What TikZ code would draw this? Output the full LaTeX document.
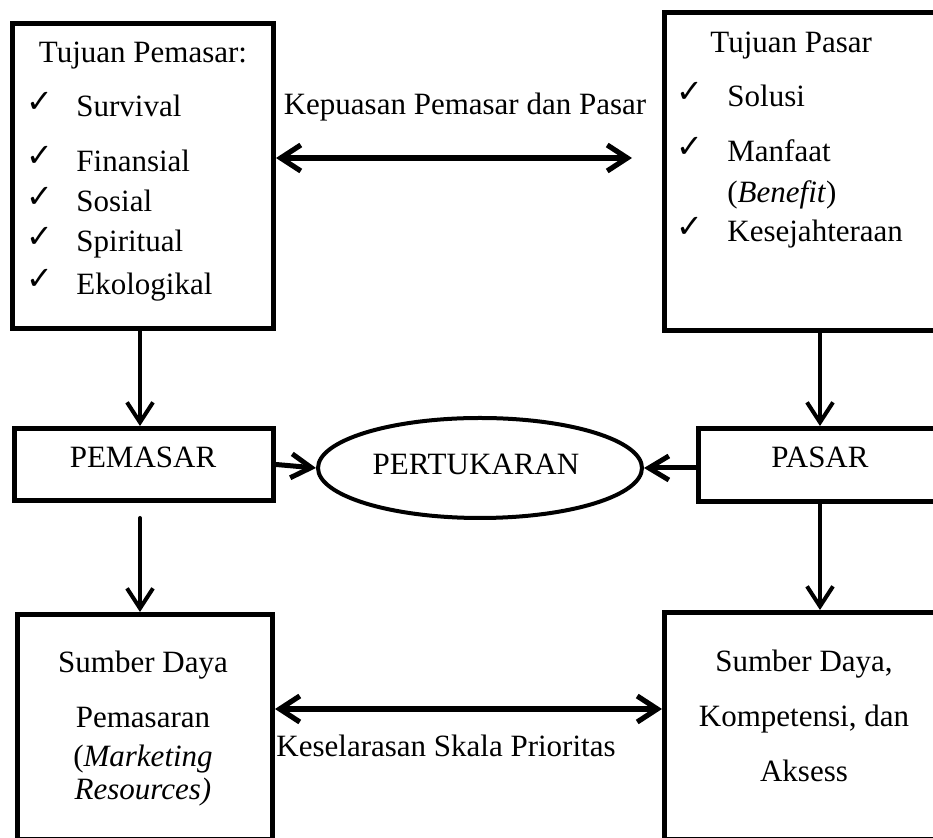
\documentclass[tikz,border=0pt]{standalone}
\usepackage{fontspec}
\setmainfont{Liberation Serif}
\newfontfamily\symbolfont{DejaVu Sans}
\usetikzlibrary{arrows.meta,shapes.geometric}

\tikzset{
  frame/.style={draw, line width=2.5pt, rectangle, inner sep=0pt},
  oval/.style={draw, line width=2pt, ellipse, inner sep=0pt,
    minimum width=162pt, minimum height=50pt},
  txt/.style={inner sep=0pt, font=\fontsize{15.5pt}{18pt}\selectfont},
  tick/.style={inner sep=0pt, font=\symbolfont\fontsize{16pt}{18pt}\selectfont},
  flow/.style={line width=2pt, -{Straight Barb[length=10pt,width=13pt]}, line cap=round},
  link/.style={line width=2.6pt, {Straight Barb[length=10pt,width=13pt]}-{Straight Barb[length=10pt,width=13pt]}},
  feed/.style={line width=2.5pt, -{Straight Barb[length=10pt,width=12pt]}}
}

\begin{document}
\begin{tikzpicture}[x=0.5pt, y=-0.5pt]
\useasboundingbox (0,0) rectangle (933,838);
\clip (0,0) rectangle (933,838);

% boxes
\node[frame, minimum width=130.5pt, minimum height=152.5pt] (tl) at (143,176) {};
\node[frame, minimum width=155.5pt, minimum height=159pt] (tr) at (820,171.5) {};
\node[frame, minimum width=129.5pt, minimum height=36pt] (pem) at (144,464.5) {};
\node[frame, minimum width=121.5pt, minimum height=36.5pt] (pas) at (820,465) {};
\node[oval] (tuk) at (480,468) {};
\node[frame, minimum width=127.5pt, minimum height=112.5pt] (bl) at (145,727) {};
\node[frame, minimum width=155.5pt, minimum height=113.5pt] (br) at (820,726) {};

% marketer goals
\node[txt, anchor=base] (tlh) at (143,63) {Tujuan Pemasar:};
\node[tick, anchor=base west] (c1) at (26,113) {✓};
\node[tick, anchor=base west] (c2) at (26,167) {✓};
\node[tick, anchor=base west] (c3) at (26,208) {✓};
\node[tick, anchor=base west] (c4) at (26,248) {✓};
\node[tick, anchor=base west] (c5) at (26,290) {✓};
\node[txt, anchor=base west] (i1) at (76,117) {Survival};
\node[txt, anchor=base west] (i2) at (76,172) {Finansial};
\node[txt, anchor=base west] (i3) at (76,212) {Sosial};
\node[txt, anchor=base west] (i4) at (76,252) {Spiritual};
\node[txt, anchor=base west] (i5) at (76,295) {Ekologikal};

% market goals
\node[txt, anchor=base west] (trh) at (710,53) {Tujuan Pasar};
\node[tick, anchor=base west] (d1) at (676,103) {✓};
\node[tick, anchor=base west] (d2) at (676,158) {✓};
\node[tick, anchor=base west] (d3) at (676,238) {✓};
\node[txt, anchor=base west] (j1) at (727,107) {Solusi};
\node[txt, anchor=base west] (j2) at (727,162) {Manfaat};
\node[txt, anchor=base west] (j3) at (727,203) {(\textit{Benefit})};
\node[txt, anchor=base west] (j4) at (727,242) {Kesejahteraan};

% middle row labels
\node[txt, anchor=base] (pemt) at (143,468) {PEMASAR};
\node[txt, anchor=base] (tukt) at (476,475) {PERTUKARAN};
\node[txt, anchor=base] (past) at (820,468) {PASAR};

% resources
\node[txt, anchor=base] (b1) at (143,673) {Sumber Daya};
\node[txt, anchor=base] (b2) at (143,728) {Pemasaran};
\node[txt, anchor=base] (b3) at (143,767) {(\textit{Marketing}};
\node[txt, anchor=base] (b4) at (143,800) {\textit{Resources)}};
\node[txt, anchor=base] (r1) at (804,672) {Sumber Daya,};
\node[txt, anchor=base] (r2) at (804,727) {Kompetensi, dan};
\node[txt, anchor=base] (r3) at (804,782) {Aksess};

% connector labels
\node[txt, anchor=base] (kp) at (465,115) {Kepuasan Pemasar dan Pasar};
\node[txt, anchor=base] (ks) at (446,757) {Keselarasan Skala Prioritas};

% connectors
\coordinate (kpend) at (632,158);
\coordinate (ksrow) at (0,709);
\draw[flow] (tl.south -| 140,0) -- (pem.north -| 140,0);
\draw[flow] ([yshift=-7.5pt]pem.south -| 140,0) -- (bl.north -| 140,0);
\draw[flow] (tr.south) -- (pas.north);
\draw[flow] (pas.south) -- (br.north);
\draw[feed] (pem.east) -- (tuk.west);
\draw[feed] (pas.west |- tuk.east) -- (tuk.east);
\draw[link] (kpend -| tl.east) -- (kpend);
\draw[link] (ksrow -| bl.east) -- (ksrow -| br.west);
\end{tikzpicture}
\end{document}
